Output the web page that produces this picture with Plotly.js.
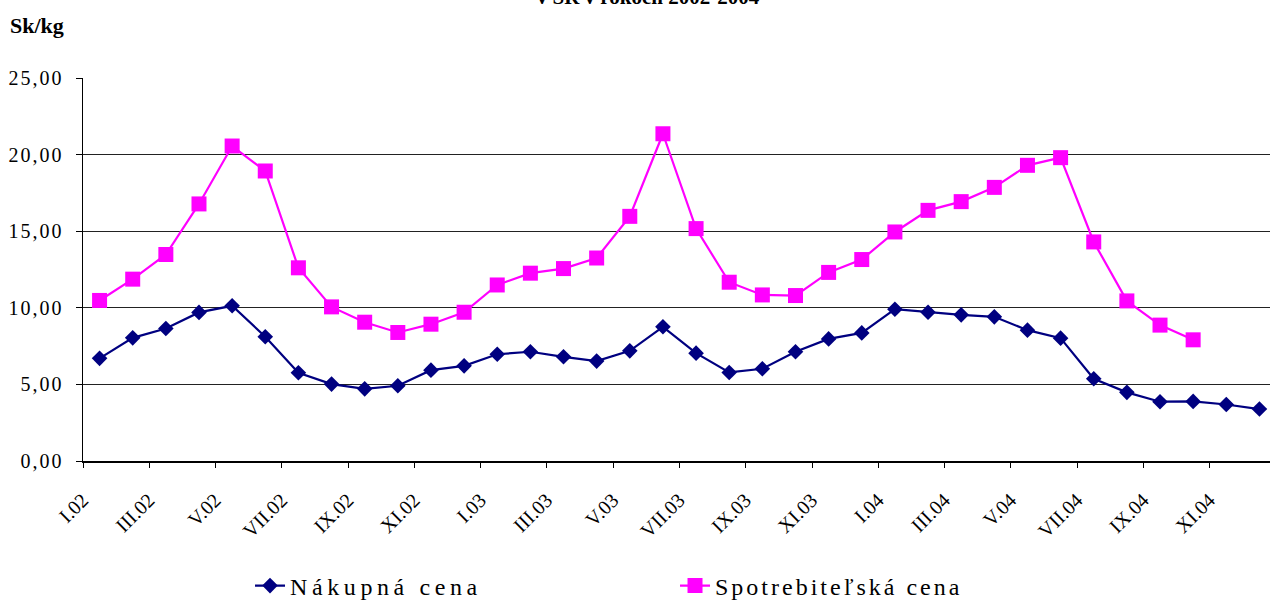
<!DOCTYPE html>
<html>
<head>
<meta charset="utf-8">
<script src="https://cdn.plot.ly/plotly-3.0.1.min.js"></script>
<style>
  html, body { margin: 0; padding: 0; overflow: hidden; background: #fff; }
  #chart { width: 1276px; height: 601px; }
  .legendtext { letter-spacing: 3px; }
  .legend .traces:first-of-type .legendtext { letter-spacing: 4.6px; }
  .ytick text { letter-spacing: 2px; }
</style>
</head>
<body>
<div id="chart"></div>
<script>
const months = ["I.02","II.02","III.02","IV.02","V.02","VI.02","VII.02","VIII.02","IX.02","X.02","XI.02","XII.02",
                "I.03","II.03","III.03","IV.03","V.03","VI.03","VII.03","VIII.03","IX.03","X.03","XI.03","XII.03",
                "I.04","II.04","III.04","IV.04","V.04","VI.04","VII.04","VIII.04","IX.04","X.04","XI.04","XII.04"];

const nakupnaCena = [6.70, 8.04, 8.65, 9.70, 10.13, 8.11, 5.76, 5.02, 4.71, 4.91, 5.93, 6.21,
                     6.97, 7.13, 6.80, 6.52, 7.19, 8.76, 7.04, 5.78, 6.02, 7.13, 7.97, 8.36,
                     9.91, 9.71, 9.54, 9.41, 8.54, 8.02, 5.37, 4.48, 3.87, 3.89, 3.69, 3.39];

const spotrebitelskaCena = [10.48, 11.87, 13.48, 16.78, 20.56, 18.93, 12.61, 10.06, 9.06, 8.39, 8.93, 9.71,
                            11.49, 12.26, 12.56, 13.25, 15.97, 21.36, 15.17, 11.67, 10.84, 10.80, 12.31, 13.15,
                            14.95, 16.36, 16.93, 17.86, 19.30, 19.80, 14.30, 10.45, 8.87, 7.91, null, null];

const yTicks = [0, 5, 10, 15, 20, 25];

const idx = months.map((m, i) => i);
const labelIdx = idx.filter(i => i % 2 === 0);
const labelText = labelIdx.map(i => months[i]);
const boundaryIdx = labelIdx.map(i => i - 0.5);

const traces = [
  {
    x: idx, y: nakupnaCena, name: "Nákupná cena", type: "scatter", mode: "lines+markers",
    line: { color: "#000080", width: 2.2 },
    marker: { symbol: "diamond", size: 12, color: "#000080" },
    cliponaxis: false
  },
  {
    x: idx, y: spotrebitelskaCena, name: "Spotrebiteľská cena", type: "scatter", mode: "lines+markers",
    line: { color: "#FF00FF", width: 2.2 },
    marker: { symbol: "square", size: 15, color: "#FF00FF" },
    connectgaps: false, cliponaxis: false
  },
  {
    x: [boundaryIdx[0]], y: [null], xaxis: "x2", showlegend: false, hoverinfo: "skip", type: "scatter"
  }
];

const serif = "Liberation Serif, Times New Roman, serif";

const layout = {
  width: 1276, height: 601,
  margin: { l: 83, r: 0, t: 78, b: 140 },
  paper_bgcolor: "#fff", plot_bgcolor: "#fff",
  separators: ", ",
  showlegend: true,
  title: {
    text: "<b>v SR v rokoch 2002-2004</b>",
    font: { family: serif, size: 21, color: "#000" },
    x: 648 / 1276, xref: "container", xanchor: "center",
    y: 0.993, yref: "container", yanchor: "bottom"
  },
  xaxis: {
    type: "linear", range: [-0.5, 35.5], automargin: false,
    tickmode: "array", tickvals: labelIdx, ticktext: labelText,
    ticks: "", tickangle: -45, ticklabelstandoff: 18, ticklabelshift: -17,
    tickfont: { family: serif, size: 20, color: "#000" },
    showgrid: false, zeroline: false,
    showline: true, linecolor: "#000", linewidth: 1.5
  },
  xaxis2: {
    type: "linear", overlaying: "x", matches: "x", range: [-0.5, 35.5],
    tickmode: "array", tickvals: boundaryIdx, ticks: "outside", ticklen: 6, tickwidth: 1, tickcolor: "#000",
    showticklabels: false, showgrid: false, zeroline: false, showline: false, side: "bottom"
  },
  yaxis: {
    range: [0, 25], tickmode: "array", tickvals: yTicks, tickformat: ".2f", automargin: false,
    ticks: "outside", ticklen: 6, tickcolor: "#000", ticklabelstandoff: 8,
    tickfont: { family: serif, size: 20, color: "#000" },
    showgrid: true, gridcolor: "#222", gridwidth: 1,
    zeroline: false, showline: true, linecolor: "#000", linewidth: 1.5
  },
  legend: {
    orientation: "h", x: 0.140, xanchor: "left",
    yref: "container", y: 1 - 586 / 601, yanchor: "middle",
    font: { family: serif, size: 24, color: "#000" },
    entrywidth: 380, entrywidthmode: "pixels",
    bgcolor: "rgba(0,0,0,0)"
  },
  annotations: [
    {
      text: "<b>Sk/kg</b>", xref: "paper", yref: "paper",
      x: -75/1193, xanchor: "left", y: 1 + (78 - 25)/383, yanchor: "middle",
      showarrow: false, font: { family: serif, size: 22, color: "#000" }
    }
  ]
};

Plotly.newPlot("chart", traces, layout, { displayModeBar: false, staticPlot: true });
</script>
</body>
</html>
